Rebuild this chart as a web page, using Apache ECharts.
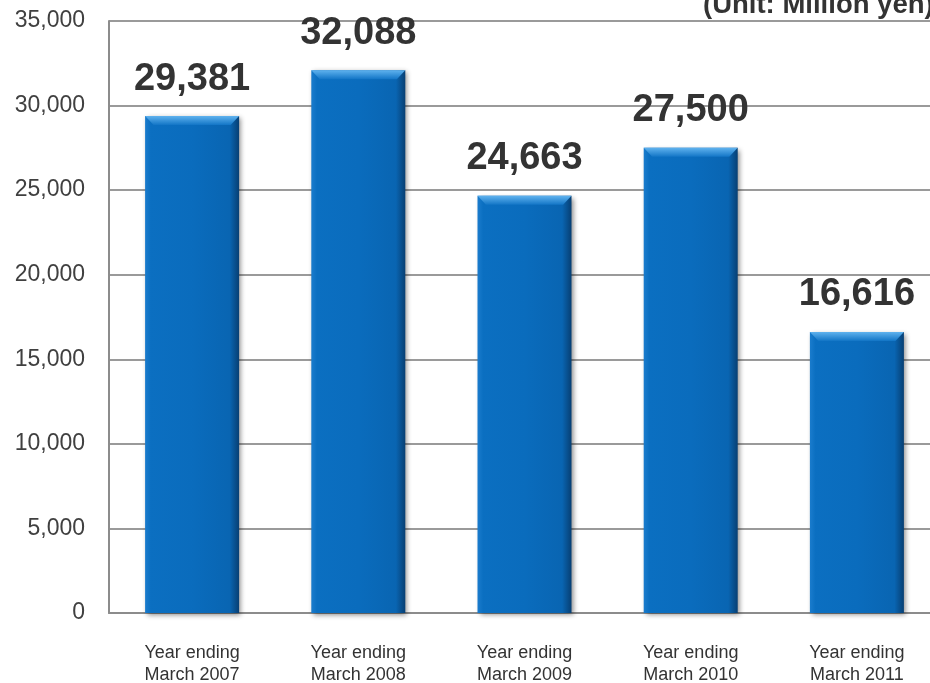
<!DOCTYPE html>
<html>
<head>
<meta charset="utf-8">
<script src="https://cdn.jsdelivr.net/npm/echarts@6/dist/echarts.min.js"></script>
<style>
  html, body { margin: 0; padding: 0; background: #ffffff; }
  #chart { width: 930px; height: 683px; }
</style>
</head>
<body>
<div id="chart"></div>
<script>
// Fiscal years (categories)
const categories = [
  'Year ending\nMarch 2007',
  'Year ending\nMarch 2008',
  'Year ending\nMarch 2009',
  'Year ending\nMarch 2010',
  'Year ending\nMarch 2011'
];
// Net sales, million yen
const values = [29381, 32088, 24663, 27500, 16616];
// Value axis settings
const yMin = 0;
const yMax = 35000;
const yStep = 5000;
const unitText = '(Unit: Million yen)';

const chart = echarts.init(document.getElementById('chart'), null, { renderer: 'canvas' });

// Bar body: lit left edge, dark right edge
const barFill = new echarts.graphic.LinearGradient(0, 0, 1, 0, [
  { offset: 0, color: '#1a7ccd' },
  { offset: 0.06, color: '#0b6fc1' },
  { offset: 0.5, color: '#0a6cbd' },
  { offset: 0.9, color: '#0965b2' },
  { offset: 1, color: '#073f73' }
]);
// Bevel cap on the top of each bar
const capFill = new echarts.graphic.LinearGradient(0, 0, 0, 1, [
  { offset: 0, color: '#5fb2ee' },
  { offset: 1, color: '#1275c6' }
]);
const fmt = function (v) { return v.toLocaleString('en-US'); };
const font = 'Liberation Sans, Arial, sans-serif';

chart.setOption({
  animation: false,
  backgroundColor: '#ffffff',
  grid: { left: 109, top: 21, right: -10, bottom: 70, containLabel: false, outerBoundsMode: 'none' },
  xAxis: {
    type: 'category',
    data: categories,
    axisLine: { show: true, lineStyle: { color: '#8c8c8c', width: 2 } },
    axisTick: { show: false },
    axisLabel: {
      color: '#333333',
      fontFamily: font,
      fontSize: 18,
      lineHeight: 22,
      margin: 29
    }
  },
  yAxis: {
    type: 'value',
    min: yMin,
    max: yMax,
    interval: yStep,
    axisLine: { show: true, lineStyle: { color: '#8c8c8c', width: 2 } },
    axisTick: { show: false },
    splitLine: { show: true, lineStyle: { color: '#9a9a9a', width: 2 } },
    axisLabel: {
      color: '#404040',
      fontFamily: font,
      fontSize: 23,
      margin: 24,
      padding: [4, 0, 0, 0],
      formatter: fmt
    }
  },
  series: [{
    type: 'bar',
    data: values,
    barWidth: 94,
    barGap: '-100%',
    itemStyle: {
      color: barFill,
      shadowColor: 'rgba(0,0,0,0.45)',
      shadowBlur: 5,
      shadowOffsetX: 2,
      shadowOffsetY: 2
    },
    label: {
      show: true,
      position: 'top',
      distance: 18,
      color: '#333333',
      fontFamily: font,
      fontWeight: 'bold',
      fontSize: 38,
      formatter: function (p) { return fmt(p.value); }
    },
    z: 2
  }, {
    type: 'pictorialBar',
    data: values,
    symbol: 'path://M0,0 L100,0 L91,100 L9,100 Z',
    symbolSize: [94, 9],
    symbolPosition: 'end',
    symbolOffset: [0, 0],
    barGap: '-100%',
    itemStyle: { color: capFill },
    silent: true,
    z: 3
  }],
  graphic: [{
    type: 'text',
    x: 703,
    y: 5,
    style: {
      text: unitText,
      fill: '#333333',
      font: 'bold 27.5px "Liberation Sans", Arial, sans-serif',
      verticalAlign: 'middle'
    }
  }]
});
</script>
</body>
</html>
